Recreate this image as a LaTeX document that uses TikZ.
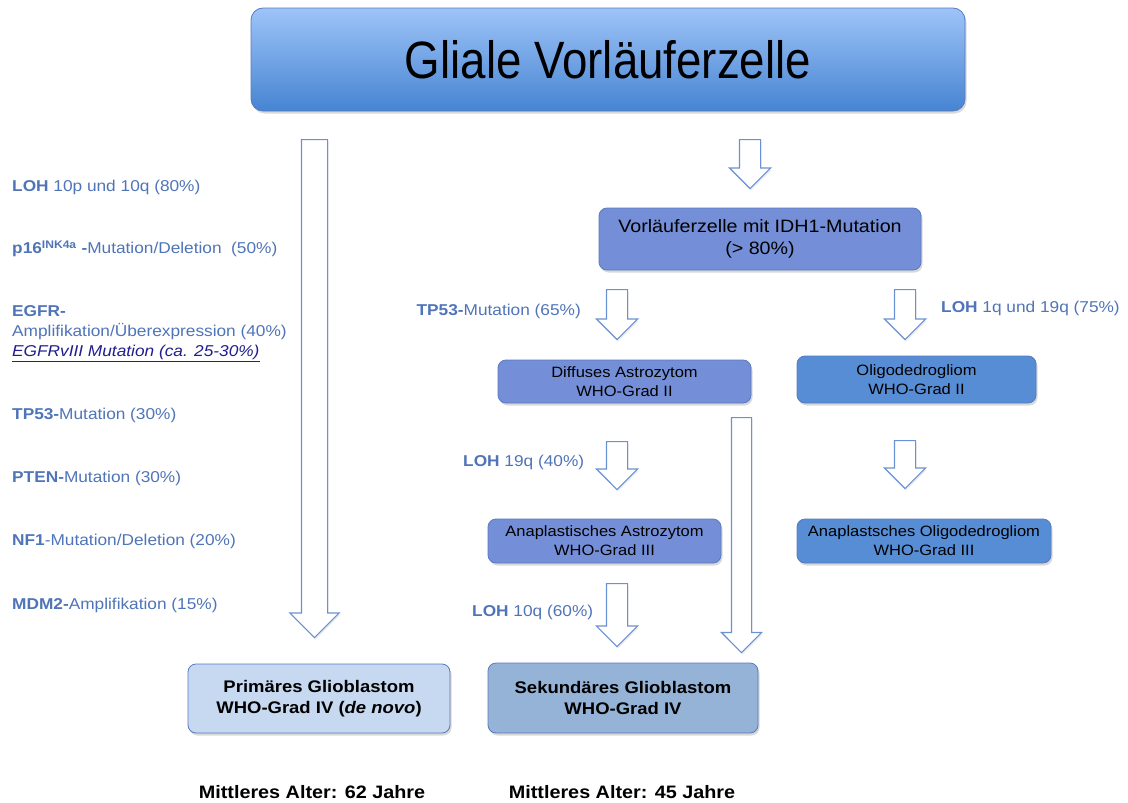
\documentclass[tikz,border=0pt]{standalone}
\usepackage{fontspec}
\setmainfont[FakeStretch=1.1]{Liberation Sans}
\newfontfamily\titlefont[FakeStretch=0.87]{Liberation Sans}
\usetikzlibrary{shapes.arrows,shadows}

\definecolor{labelblue}{RGB}{79,116,184}
\definecolor{navy}{RGB}{32,30,140}
\definecolor{arrowline}{RGB}{106,145,212}
\definecolor{boxedge}{RGB}{88,122,190}
\definecolor{glialtop}{RGB}{158,196,248}
\definecolor{glialbot}{RGB}{70,132,210}
\definecolor{astrofill}{RGB}{116,143,216}
\definecolor{oligofill}{RGB}{86,141,213}
\definecolor{primfill}{RGB}{198,217,241}
\definecolor{sekfill}{RGB}{149,179,215}

\tikzset{
  cell/.style={rounded corners=8pt,draw=boxedge,line width=0.8pt,align=center,inner sep=0pt,
    drop shadow={shadow xshift=1.5pt,shadow yshift=-2.5pt,opacity=.3}},
  astro/.style={cell,fill=astrofill,font=\fontsize{15}{19}\selectfont},
  oligo/.style={cell,fill=oligofill,font=\fontsize{15}{19}\selectfont},
  gbm/.style={cell,font=\bfseries\fontsize{16.8}{21}\selectfont},
  mut/.style={anchor=west,text=labelblue,inner sep=0pt,font=\fontsize{15.7}{19}\selectfont},
  age/.style={inner sep=0pt,font=\bfseries\fontsize{18}{21}\selectfont},
  blockarrow/.style={single arrow,draw=arrowline,fill=white,line width=1.2pt,rotate=-90,
    anchor=tail,inner xsep=0pt,inner ysep=10pt,single arrow head extend=10pt,
    drop shadow={shadow xshift=1pt,shadow yshift=-2pt,opacity=.15}}
}

\begin{document}
\begin{tikzpicture}[x=1pt,y=-1pt]
  \useasboundingbox (0,0) rectangle (1128,803);

  % boxes
  \node[cell,top color=glialtop,bottom color=glialbot,minimum width=714,minimum height=103,
        rounded corners=12pt,font=\titlefont\fontsize{52.5}{56}\selectfont] (glial) at (608,59.5) {Gliale Vorläuferzelle};
  \node[astro,minimum width=322,minimum height=62,font=\fontsize{17.9}{22}\selectfont] (idh) at (760,239)
        {Vorläuferzelle mit IDH1-Mutation\\(> 80\%)};
  \node[astro,minimum width=253,minimum height=43] (astro2) at (624.5,381.5) {Diffuses Astrozytom\\WHO-Grad II};
  \node[oligo,minimum width=239,minimum height=47] (oligo2) at (916.5,379.5) {Oligodedrogliom\\WHO-Grad II};
  \node[astro,minimum width=233,minimum height=44] (astro3) at (604.5,541) {Anaplastisches Astrozytom\\WHO-Grad III};
  \node[oligo,minimum width=254,minimum height=44] (oligo3) at (924,541) {Anaplastsches Oligodedrogliom\\WHO-Grad III};
  \node[gbm,fill=primfill,minimum width=262,minimum height=69] (prim) at (319,698.5)
        {Primäres Glioblastom\\WHO-Grad IV (\textit{de novo})};
  \node[gbm,fill=sekfill,minimum width=270,minimum height=70] (sek) at (623,698) {Sekundäres Glioblastom\\WHO-Grad IV};
  \node[age] (age1) at (312,792) {Mittleres Alter: 62 Jahre};
  \node[age] (age2) at (622,792) {Mittleres Alter: 45 Jahre};

  % block arrows
  \node[blockarrow,minimum height=498,inner ysep=12.5pt,single arrow head extend=11.5pt] (a0) at (314.5,139) {};
  \node[blockarrow,minimum height=49] (a1) at (750,139) {};
  \node[blockarrow,minimum height=50] (a2) at (617,289) {};
  \node[blockarrow,minimum height=50] (a3) at (905,289) {};
  \node[blockarrow,minimum height=235,inner ysep=9.5pt] (a4) at (741.5,417) {};
  \node[blockarrow,minimum height=48] (a5) at (617,441) {};
  \node[blockarrow,minimum height=48] (a6) at (905,440) {};
  \node[blockarrow,minimum height=63] (a7) at (617,583) {};

  % mutations, left column
  \node[mut] (m1) at (12,187) {\textbf{LOH} 10p und 10q (80\%)};
  \node[mut] (m2) at (12,249) {\textbf{p16\textsuperscript{INK4a} -}Mutation/Deletion~~(50\%)};
  \node[mut] (m3) at (12,311) {\textbf{EGFR-}};
  \node[mut] (m4) at (12,332) {Amplifikation/Überexpression (40\%)};
  \node[mut,text=navy] (m5) at (12,353) {\underline{\textit{EGFRvIII Mutation (ca. 25-30\%)}}};
  \node[mut] (m6) at (12,415) {\textbf{TP53-}Mutation (30\%)};
  \node[mut] (m7) at (12,478) {\textbf{PTEN-}Mutation (30\%)};
  \node[mut] (m8) at (12,541) {\textbf{NF1}-Mutation/Deletion (20\%)};
  \node[mut] (m9) at (12,605) {\textbf{MDM2-}Amplifikation (15\%)};

  % mutations, secondary path
  \node[mut,anchor=east] (s1) at (581,311) {\textbf{TP53-}Mutation (65\%)};
  \node[mut] (s2) at (941,308) {\textbf{LOH} 1q und 19q (75\%)};
  \node[mut] (s3) at (463,462) {\textbf{LOH} 19q (40\%)};
  \node[mut] (s4) at (472,612) {\textbf{LOH} 10q (60\%)};
\end{tikzpicture}
\end{document}
